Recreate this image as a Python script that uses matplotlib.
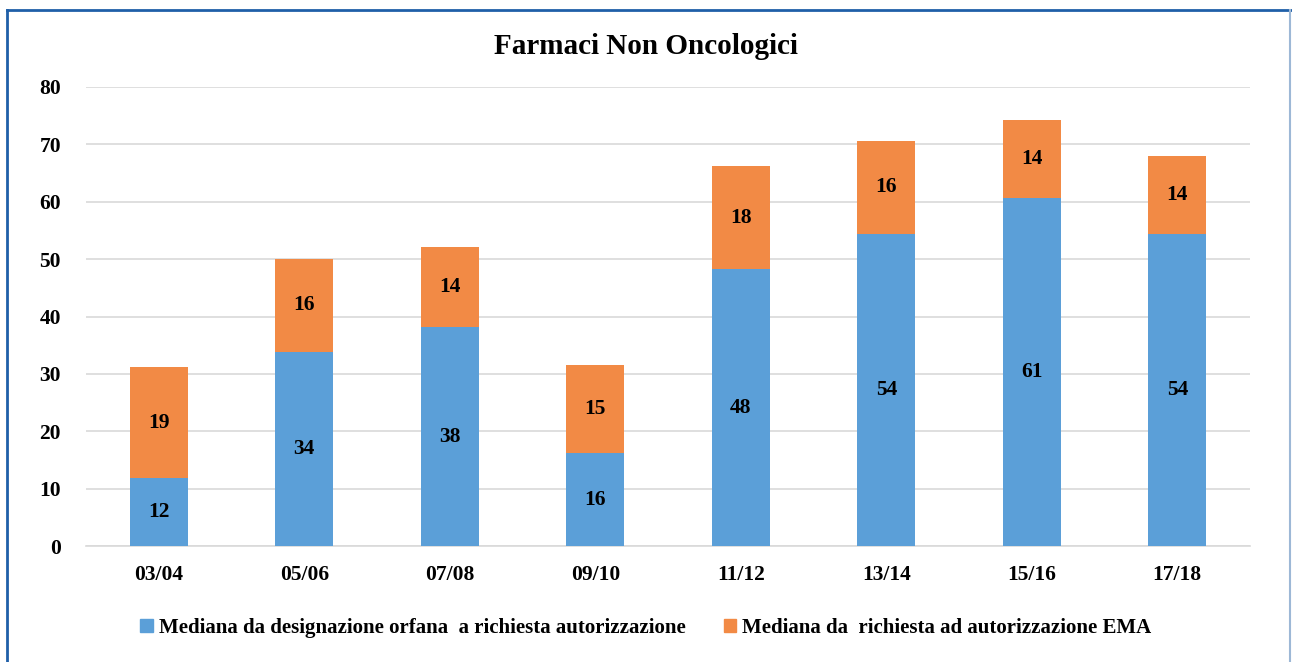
import matplotlib
matplotlib.use("Agg")
import matplotlib.pyplot as plt
from matplotlib.lines import Line2D
from matplotlib.patches import Patch

# -----------------------------
# Data
# -----------------------------
periods = ["03/04", "05/06", "07/08", "09/10", "11/12", "13/14", "15/16", "17/18"]
designazione = [11.8, 33.9, 38.1, 16.2, 48.2, 54.4, 60.6, 54.4]
richiesta = [19.4, 16.2, 14.1, 15.3, 18.1, 16.2, 13.6, 13.6]

label_blue = "Mediana da designazione orfana  a richiesta autorizzazione"
label_orange = "Mediana da  richiesta ad autorizzazione EMA"

BLUE = "#5B9FD8"
ORANGE = "#F28A45"

plt.rcParams["font.family"] = ["Liberation Serif", "DejaVu Serif"]
plt.rcParams["font.weight"] = "bold"

fig = plt.figure(figsize=(12.92, 6.62), dpi=100)
ax = fig.add_axes([0.0666, 0.1752, 0.9009, 0.6934])

x = range(len(periods))
b1 = ax.bar(x, designazione, width=0.4, color=BLUE, zorder=3)
b2 = ax.bar(x, richiesta, width=0.4, bottom=designazione, color=ORANGE, zorder=3)

for bars, vals in [(b1, designazione), (b2, richiesta)]:
    for rect, v in zip(bars, vals):
        ax.text(rect.get_x() + rect.get_width() / 2, rect.get_y() + rect.get_height() / 2,
                f"{v:.0f}", ha="center", va="center", fontsize=15.5,
                fontweight="bold", zorder=4)

ax.set_xlim(-0.5, len(periods) - 0.5)
ax.set_ylim(0, 80)
ax.set_yticks(range(0, 81, 10))
ax.set_xticks(list(x))
ax.set_xticklabels(periods)
ax.yaxis.grid(True, color="#D9D9D9", linewidth=1.2, zorder=0)
for s in ["top", "right", "left"]:
    ax.spines[s].set_visible(False)
ax.spines["bottom"].set_color("#D9D9D9")
ax.spines["bottom"].set_linewidth(1.2)
ax.tick_params(axis="both", length=0, labelsize=15.5)
ax.tick_params(axis="y", pad=18)
ax.tick_params(axis="x", pad=14)
for t in ax.get_xticklabels() + ax.get_yticklabels():
    t.set_fontweight("bold")

fig.text(0.5, 0.93, "Farmaci Non Oncologici", ha="center", va="center",
         fontsize=21, fontweight="bold")

handles = [Patch(color=BLUE, label=label_blue), Patch(color=ORANGE, label=label_orange)]
fig.legend(handles=handles, loc="center", bbox_to_anchor=(0.5, 0.052), ncol=2,
           frameon=False, handlelength=0.6, handleheight=0.6,
           handletextpad=0.3, columnspacing=1.8, prop={"weight": "bold", "size": 15})

# -----------------------------
# Frame
# -----------------------------
W, H = 1292, 662
fig.add_artist(Line2D([7 / W, 1291 / W], [1 - 10 / H, 1 - 10 / H], color="#1F5FA8", lw=2))
fig.add_artist(Line2D([7 / W, 7 / W], [0, 1 - 10 / H], color="#1F5FA8", lw=2))
fig.add_artist(Line2D([1290 / W, 1290 / W], [0, 1 - 10 / H], color="#9DB8D6", lw=1.5))

fig.savefig("out.png", dpi=100)
